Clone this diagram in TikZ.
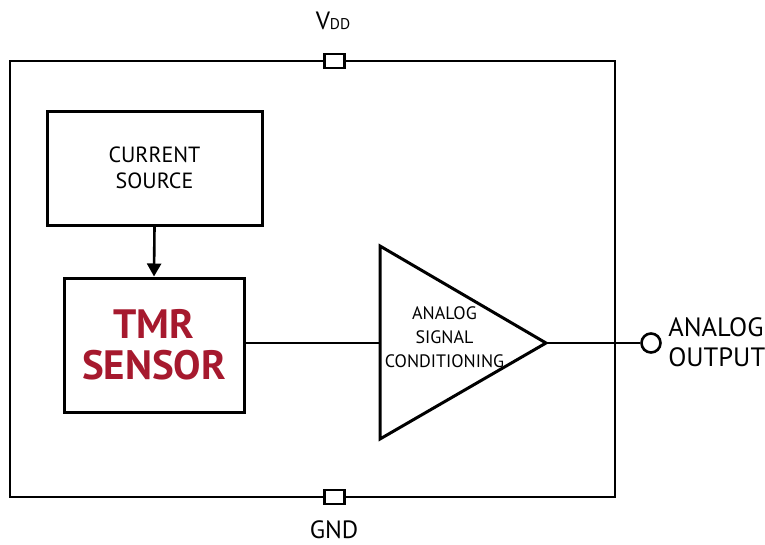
\documentclass[tikz,border=0pt]{standalone}
\usepackage{fontspec}
\setmainfont{PT Sans}
\usetikzlibrary{arrows.meta}
\definecolor{tmrred}{HTML}{A6192E}

\begin{document}
\begin{tikzpicture}[x=1pt, y=-1pt, line width=2.6pt,
  block/.style={draw, line width=3pt, align=center, inner sep=0pt},
  pin/.style={draw, fill=white, line width=2.6pt, minimum width=20pt, minimum height=14pt, inner sep=0pt},
  lbl/.style={align=center, inner sep=0pt}]

\useasboundingbox (0,0) rectangle (765,544);

\coordinate (chip_nw) at (10,61);
\coordinate (chip_se) at (615,497);

% chip outline and pins
\draw (chip_nw) rectangle (chip_se);
\node[pin] (vddpin) at (334.5,61) {};
\node[pin] (gndpin) at (334.5,497) {};
\node[lbl, anchor=base, font=\fontsize{25}{25}\selectfont] (vdd) at (333,29) {V{\fontsize{15.5}{15.5}\selectfont DD}};
\node[lbl, anchor=base, font=\fontsize{25}{25}\selectfont] (gnd) at (334,538) {GND};

% current source and sensor
\node[block, minimum width=215pt, minimum height=114pt, font=\fontsize{22}{26}\selectfont] (src) at (154.5,168) {CURRENT\\SOURCE};
\node[block, minimum width=180pt, minimum height=134pt] (tmr) at (154,345) {};
\node[lbl, text=tmrred, font=\fontsize{41}{41}\selectfont\bfseries] (tmrtxt) at (tmr.center) {TMR\\SENSOR};
\draw[-{Triangle[length=13pt,width=14pt]}] (src.south) -- (tmr.north);

% amplifier
\coordinate (amp_top) at (380,246);
\coordinate (amp_bot) at (380,439);
\coordinate (amp_in) at (380,343);
\coordinate (amp_out) at (546,343);
\draw[line width=3pt, line join=miter] (amp_top) -- (amp_out) -- (amp_bot) -- cycle;
\node[lbl, font=\fontsize{18}{24}\selectfont] (amptxt) at (444.5,337) {ANALOG\\SIGNAL\\CONDITIONING};
\draw (tmr.east |- amp_in) -- (amp_in);

% output
\node[draw, circle, fill=white, line width=2.6pt, minimum size=19pt, inner sep=0pt] (out) at (651,343) {};
\draw (amp_out) -- (out.west);
\node[lbl, anchor=west, align=left, font=\fontsize{26.5}{30}\selectfont] (outtxt) at (667,342) {ANALOG\\OUTPUT};

\end{tikzpicture}
\end{document}
